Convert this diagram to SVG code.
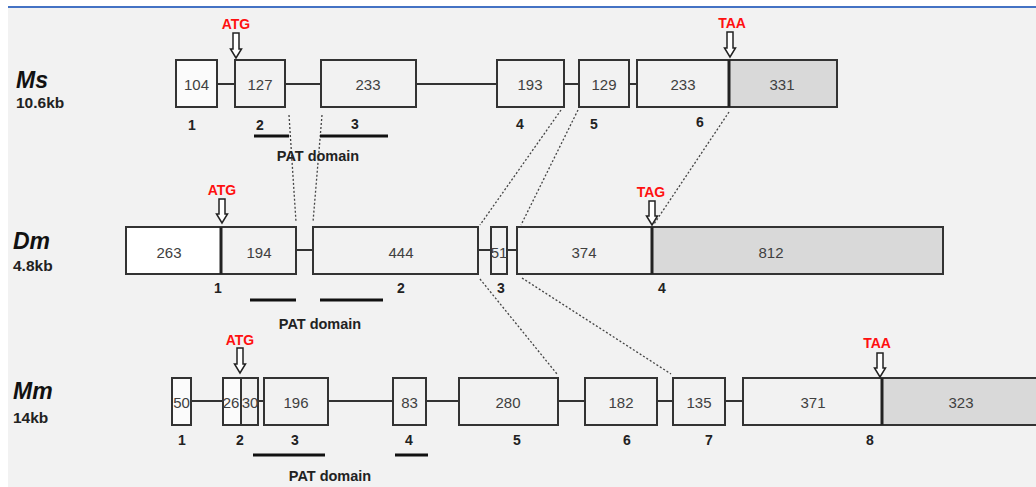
<svg xmlns="http://www.w3.org/2000/svg" width="1036" height="487" viewBox="0 0 1036 487">
<style>
.ex{fill:#f2f2f2;stroke:#333;stroke-width:2}
.wh{fill:#fbfbfb}
.gy{fill:#d9d9d9}
.num{font-family:"Liberation Sans",Arial,sans-serif;font-size:15px;fill:#404040;text-anchor:middle}
.lab{font-family:"Liberation Sans",Arial,sans-serif;font-size:14px;font-weight:bold;fill:#222;text-anchor:middle}
.patt{font-family:"Liberation Sans",Arial,sans-serif;font-size:14.5px;font-weight:bold;fill:#222;text-anchor:middle}
.sp{font-family:"Liberation Sans",Arial,sans-serif;font-weight:bold;font-style:italic;font-size:23px;fill:#111}
.kb{font-family:"Liberation Sans",Arial,sans-serif;font-weight:bold;font-size:15.5px;fill:#222}
.cod{font-family:"Liberation Sans",Arial,sans-serif;font-weight:bold;font-size:14px;fill:#ff1010;text-anchor:middle}
.intr{stroke:#333;stroke-width:2;fill:none}
.pat{stroke:#111;stroke-width:3}
.dot{stroke:#444;stroke-width:1.3;stroke-dasharray:2 2;fill:none}
.arr{fill:#fff;stroke:#222;stroke-width:1.5}
.div{stroke:#222;stroke-width:3}
</style>
<rect x="0" y="0" width="1036" height="487" fill="#ffffff"/>
<rect x="8" y="8" width="1028" height="479" fill="#f2f2f2"/>
<line x1="8" y1="7" x2="1036" y2="7" stroke="#4472c4" stroke-width="2"/>

<g id="labels">
<text class="sp" x="16" y="88">Ms</text>
<text class="kb" x="16" y="108">10.6kb</text>
<text class="sp" x="13" y="249">Dm</text>
<text class="kb" x="13" y="271">4.8kb</text>
<text class="sp" x="13" y="399">Mm</text>
<text class="kb" x="13" y="423">14kb</text>
</g>

<g id="connectors">
<path class="intr" d="M217 84H235M285 84H321M416 84H497M564 84H579M629 84H637"/>
<path class="intr" d="M296 250H313M477 250H491M507 250H517"/>
<path class="intr" d="M191 401H223M258 401H264M328 401H393M426 401H459M558 401H585M657 401H673M725 401H743"/>
<line class="dot" x1="289" y1="115" x2="296" y2="222"/>
<line class="dot" x1="322" y1="115" x2="313" y2="222"/>
<line class="dot" x1="561" y1="110" x2="480" y2="225"/>
<line class="dot" x1="578" y1="110" x2="521" y2="225"/>
<line class="dot" x1="729" y1="112" x2="654" y2="224"/>
<line class="dot" x1="480" y1="279" x2="557" y2="374"/>
<line class="dot" x1="522" y1="278" x2="671" y2="374"/>
</g>

<g id="ms-row">
<g id="ms-ex1"><rect class="ex wh" x="176" y="60" width="41" height="47"/><text class="num" x="196.5" y="90">104</text><text class="lab" x="192" y="130">1</text></g>
<g id="ms-ex2"><rect class="ex" x="235" y="60" width="50" height="47"/><text class="num" x="260" y="90">127</text><text class="lab" x="260" y="130">2</text></g>
<g id="ms-ex3"><rect class="ex" x="321" y="60" width="95" height="47"/><text class="num" x="368" y="90">233</text><text class="lab" x="355" y="129">3</text></g>
<g id="ms-ex4"><rect class="ex" x="497" y="60" width="67" height="47"/><text class="num" x="530" y="90">193</text><text class="lab" x="520" y="129">4</text></g>
<g id="ms-ex5"><rect class="ex" x="579" y="60" width="50" height="47"/><text class="num" x="604" y="90">129</text><text class="lab" x="594" y="129">5</text></g>
<g id="ms-ex6"><rect class="ex" x="637" y="60" width="92" height="47"/><rect class="ex gy" x="729" y="60" width="108" height="47"/><line class="div" x1="729" y1="60" x2="729" y2="107"/><text class="num" x="683" y="90">233</text><text class="num" x="782" y="90">331</text><text class="lab" x="700" y="127">6</text></g>
<g id="ms-atg"><text class="cod" x="236" y="29">ATG</text><path class="arr" d="M233 33H239V49H241.5L236 58L230.5 49H233Z"/></g>
<g id="ms-taa"><text class="cod" x="732" y="28">TAA</text><path class="arr" d="M727 32H733V48H735.5L730 57L724.5 48H727Z"/></g>
<g id="ms-pat"><line class="pat" x1="254" y1="136" x2="289" y2="136"/><line class="pat" x1="320" y1="136" x2="388" y2="136"/><text class="patt" x="318" y="161">PAT domain</text></g>
</g>

<g id="dm-row">
<g id="dm-ex1"><rect class="ex" x="126" y="227" width="95" height="47" style="fill:#fff"/><rect class="ex" x="221" y="227" width="75" height="47"/><line class="div" x1="221" y1="227" x2="221" y2="274"/><text class="num" x="169" y="258">263</text><text class="num" x="259" y="258">194</text><text class="lab" x="218" y="293">1</text></g>
<g id="dm-ex2"><rect class="ex" x="313" y="227" width="165" height="47"/><text class="num" x="401" y="258">444</text><text class="lab" x="401" y="293">2</text></g>
<g id="dm-ex3"><rect class="ex" x="491" y="227" width="16" height="47"/><text class="num" x="499" y="258">51</text><text class="lab" x="501" y="293">3</text></g>
<g id="dm-ex4"><rect class="ex" x="517" y="227" width="135" height="47"/><rect class="ex gy" x="652" y="227" width="291" height="47"/><line class="div" x1="652" y1="227" x2="652" y2="274"/><text class="num" x="584" y="258">374</text><text class="num" x="771" y="258">812</text><text class="lab" x="662" y="293">4</text></g>
<g id="dm-atg"><text class="cod" x="222" y="195">ATG</text><path class="arr" d="M219 199H225V214H227.5L222 223L216.5 214H219Z"/></g>
<g id="dm-tag"><text class="cod" x="651" y="197">TAG</text><path class="arr" d="M649 201H655V216H657.5L652 225L646.5 216H649Z"/></g>
<g id="dm-pat"><line class="pat" x1="250" y1="300" x2="296" y2="300"/><line class="pat" x1="320" y1="300" x2="383" y2="300"/><text class="patt" x="320" y="329">PAT domain</text></g>
</g>

<g id="mm-row">
<g id="mm-ex1"><rect class="ex wh" x="172" y="378" width="19" height="47"/><text class="num" x="181.5" y="408">50</text><text class="lab" x="182" y="445">1</text></g>
<g id="mm-ex2"><rect class="ex wh" x="223" y="378" width="18" height="47"/><rect class="ex" x="241" y="378" width="17" height="47"/><text class="num" x="231" y="408">26</text><text class="num" x="250" y="408">30</text><text class="lab" x="240" y="445">2</text></g>
<g id="mm-ex3"><rect class="ex" x="264" y="378" width="64" height="47"/><text class="num" x="296" y="408">196</text><text class="lab" x="295" y="445">3</text></g>
<g id="mm-ex4"><rect class="ex" x="393" y="378" width="33" height="47"/><text class="num" x="409.5" y="408">83</text><text class="lab" x="409" y="445">4</text></g>
<g id="mm-ex5"><rect class="ex" x="459" y="378" width="99" height="47"/><text class="num" x="508" y="408">280</text><text class="lab" x="517" y="445">5</text></g>
<g id="mm-ex6"><rect class="ex" x="585" y="378" width="72" height="47"/><text class="num" x="621" y="408">182</text><text class="lab" x="627" y="445">6</text></g>
<g id="mm-ex7"><rect class="ex" x="673" y="378" width="52" height="47"/><text class="num" x="699" y="408">135</text><text class="lab" x="709" y="445">7</text></g>
<g id="mm-ex8"><rect class="ex" x="743" y="378" width="139" height="47"/><rect class="ex gy" x="882" y="378" width="160" height="47"/><line class="div" x1="882" y1="378" x2="882" y2="425"/><text class="num" x="813" y="408">371</text><text class="num" x="961" y="408">323</text><text class="lab" x="870" y="445">8</text></g>
<g id="mm-atg"><text class="cod" x="240" y="345">ATG</text><path class="arr" d="M237 348H243V364H245.5L240 373L234.5 364H237Z"/></g>
<g id="mm-taa"><text class="cod" x="877" y="348">TAA</text><path class="arr" d="M877 353H883V368H885.5L880 377L874.5 368H877Z"/></g>
<g id="mm-pat"><line class="pat" x1="253" y1="455" x2="325" y2="455"/><line class="pat" x1="395" y1="455" x2="428" y2="455"/><text class="patt" x="330" y="481">PAT domain</text></g>
</g>
</svg>
